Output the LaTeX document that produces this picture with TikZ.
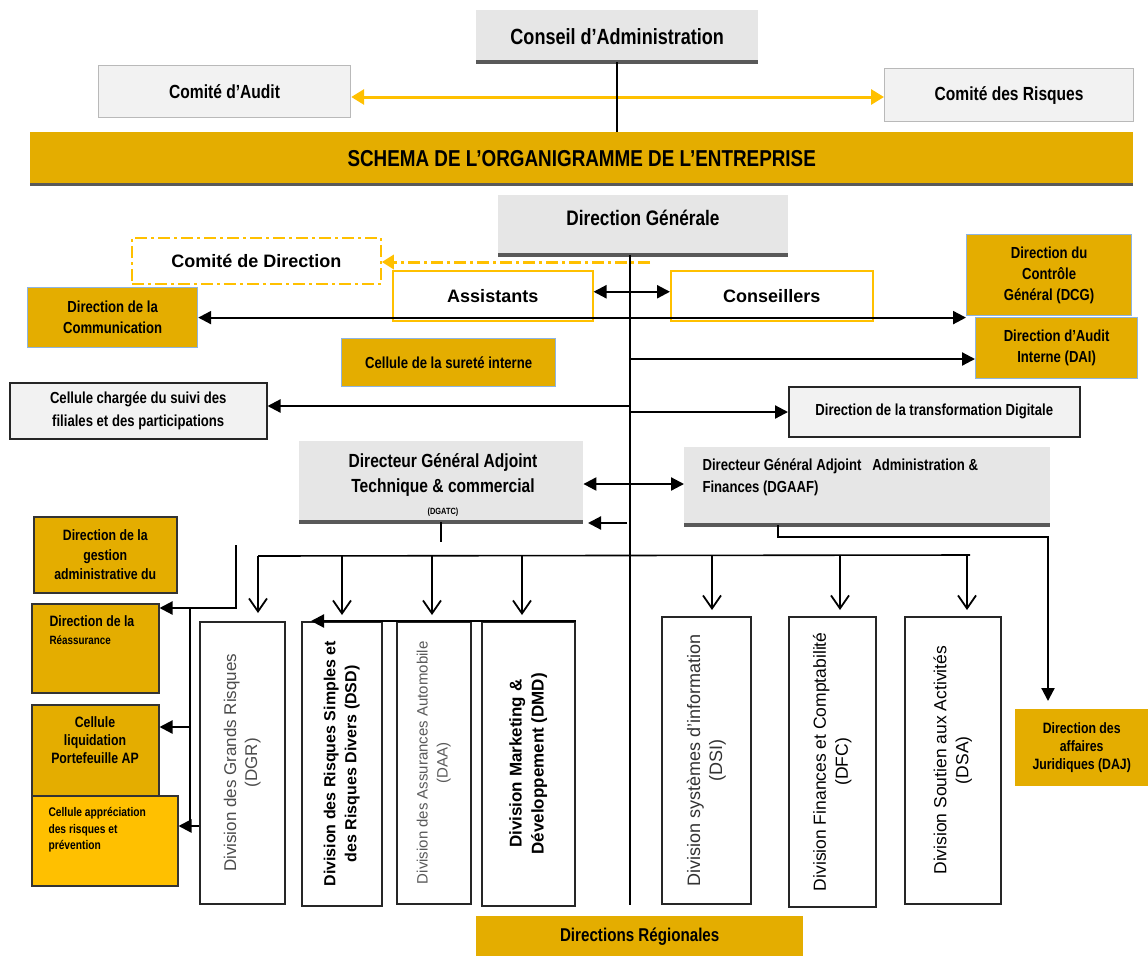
\documentclass[tikz,border=0pt]{standalone}
\usepackage{fontspec}
\setmainfont{Liberation Sans}[FakeStretch=0.82]
\newfontfamily\wfont{Liberation Sans}
\usetikzlibrary{arrows.meta}
\definecolor{gold}{RGB}{228,173,0}
\definecolor{amber}{RGB}{255,192,0}
\definecolor{lgray}{RGB}{230,230,230}
\definecolor{vlgray}{RGB}{242,242,242}
\definecolor{bblue}{RGB}{141,180,226}
\definecolor{dgray}{RGB}{89,89,89}
\newcommand\fsz[2]{\fontsize{#1}{#2}\selectfont}
\begin{document}
\begin{tikzpicture}[x=1pt,y=-1pt,
  box/.style={anchor=north west, inner sep=0pt, align=center, font=\bfseries},
  graybox/.style={box, fill=lgray},
  palebox/.style={box, fill=vlgray, draw=gray!55, line width=1.2pt},
  goldblue/.style={box, fill=gold, draw=bblue, line width=1.2pt},
  golddark/.style={box, fill=gold, draw=black!80, line width=1.5pt},
  whitebox/.style={box, fill=white, draw=black!85, line width=1.5pt},
  divbox/.style={box, draw=black!85, line width=1.5pt, fill=white},
  bar/.style={line width=4pt, draw=dgray},
  conn/.style={line width=1.6pt},
  ddot/.style={dash pattern=on 12pt off 4pt on 3pt off 4pt},
  harrow/.style={line width=2.2pt, -{Triangle[length=13pt,width=13pt]}},
  darrow/.style={line width=2.2pt, {Triangle[length=13pt,width=13pt]}-{Triangle[length=13pt,width=13pt]}},
  oarrow/.style={line width=1.8pt, -{Straight Barb[length=13pt,width=18pt]}},
  vtext/.style={rotate=90, align=center}
]
\fill[white] (0,0) rectangle (1148,956);
\useasboundingbox (0,0) rectangle (1148,956);

% top
\node[graybox, minimum width=282pt, minimum height=52pt, font=\bfseries\fsz{22}{26}] (CA) at (476,10) {Conseil d’Administration};
\draw[bar] (CA.south west) -- (CA.south east);
\node[palebox, minimum width=252pt, minimum height=52pt, font=\bfseries\fsz{19}{22}] (AUD) at (98,65) {Comité d’Audit};
\node[palebox, minimum width=249pt, minimum height=53pt, font=\bfseries\fsz{19}{22}] (RIS) at (884,68) {Comité des Risques};
\node[box, fill=gold, minimum width=1103pt, minimum height=52pt, font=\bfseries\fsz{23}{26}] (BAN) at (30,132) {SCHEMA DE L’ORGANIGRAMME DE L’ENTREPRISE};
\draw[bar, line width=3pt] (BAN.south west) -- (BAN.south east);
\coordinate (ya) at (0,97);
\draw[line width=3pt, amber, {Triangle[length=13pt,width=15pt]}-{Triangle[length=13pt,width=15pt]}] (AUD.east |- ya) -- (RIS.west |- ya);
\draw[conn] (CA.south) -- (CA.south |- BAN.north);

% direction generale
\node[graybox, minimum width=290pt, minimum height=60pt] (DG) at (498,195) {};
\node[font=\bfseries\fsz{21}{24}] (DGt) at (643,218) {Direction Générale};
\draw[bar] (DG.south west) -- (DG.south east);
\coordinate (trk) at (630,905);
\draw[conn] (DG.south -| trk) -- (trk);

\node[box, draw=amber, ddot, line width=1.8pt, minimum width=249pt, minimum height=46pt, font=\wfont\bfseries\fsz{18}{22}] (CDD) at (131,237) {Comité de Direction};
\coordinate (cddS) at (650,262);
\draw[amber, ddot, line width=3pt, -{Triangle[length=12pt,width=14pt]}] (cddS) -- (cddS -| CDD.east);

\node[box, draw=amber, line width=1.5pt, minimum width=200pt, minimum height=50pt, font=\wfont\bfseries\fsz{18}{22}] (AST) at (392,270) {Assistants};
\node[box, draw=amber, line width=1.5pt, minimum width=202pt, minimum height=50pt, font=\wfont\bfseries\fsz{18}{22}] (CON) at (670,270) {Conseillers};
\draw[darrow] ([yshift=4pt]AST.east) -- ([yshift=4pt]CON.west);

\node[goldblue, minimum width=170pt, minimum height=60pt, font=\bfseries\fsz{16}{21}] (COM) at (27,287) {Direction de la\\Communication};
\node[goldblue, minimum width=165pt, minimum height=81pt, font=\bfseries\fsz{16}{21}] (DCG) at (966,234) {Direction du\\Contrôle\\Général (DCG)};
\node[goldblue, minimum width=162pt, minimum height=61pt, font=\bfseries\fsz{16}{21}] (DAI) at (975,317) {Direction d’Audit\\Interne (DAI)};
\draw[darrow] (COM.east) -- (COM.east -| DCG.west);

\node[goldblue, minimum width=214pt, minimum height=48pt, font=\bfseries\fsz{16}{20}] (SUR) at (341,338) {Cellule de la sureté interne};
\coordinate (t1) at (630,359);
\draw[harrow] (t1) -- (t1 -| DAI.west);

\node[whitebox, fill=vlgray, minimum width=257pt, minimum height=56pt, font=\bfseries\fsz{16}{23}] (FIL) at (9,382) {Cellule chargée du suivi des\\filiales et des participations};
\coordinate (t2) at (630,406);
\draw[harrow] (t2) -- (t2 -| FIL.east);
\node[whitebox, fill=vlgray, minimum width=291pt, minimum height=50pt, font=\bfseries\fsz{16}{20}] (DIG) at (788,386) {Direction de la transformation Digitale};
\coordinate (t3) at (630,412);
\draw[harrow] (t3) -- (t3 -| DIG.west);

% DGA
\node[graybox, minimum width=284pt, minimum height=81pt] (DGA) at (299,441) {};
\node[font=\bfseries\fsz{19}{25}, align=center] (DGAt) at (443,475) {Directeur Général Adjoint\\Technique \& commercial};
\node[font=\bfseries\fsz{9}{10}] (DGAc) at (443,512) {(DGATC)};
\draw[bar] (DGA.south west) -- (DGA.south east);
\node[graybox, minimum width=366pt, minimum height=78pt] (DGF) at (684,447) {};
\node[anchor=north west, align=left, font=\bfseries\fsz{16}{22}] (DGFt) at (699,455) {Directeur Général Adjoint \ \ Administration \&\\Finances (DGAAF)};
\draw[bar] (DGF.south west) -- (DGF.south east);
\coordinate (ydg) at (0,484);
\draw[darrow] (DGA.east |- ydg) -- (DGF.west |- ydg);
\coordinate (t4) at (627,523);
\coordinate (t4e) at (588,523);
\draw[harrow] (t4) -- (t4e);
\draw[conn] (DGA.south) -- ++(0,20);

% bus
\coordinate (bus0) at (258,556);
\coordinate (bus1) at (970,555);
\draw[conn] (bus0) -- (bus1);

% divisions
\node[divbox, minimum width=85pt, minimum height=282pt] (DGR) at (199,621) {};
\node[divbox, minimum width=80pt, minimum height=284pt] (DSD) at (301,621) {};
\node[divbox, minimum width=74pt, minimum height=282pt] (DAA) at (396,621) {};
\node[divbox, minimum width=93pt, minimum height=284pt] (DMD) at (481,621) {};
\node[divbox, minimum width=89pt, minimum height=287pt] (DSI) at (661,616) {};
\node[divbox, minimum width=87pt, minimum height=290pt] (DFC) at (788,616) {};
\node[divbox, minimum width=96pt, minimum height=287pt] (DSA) at (904,616) {};

\node[vtext, font=\wfont\fsz{17}{21}, text=black!70] (DGRt) at (DGR) {Division des Grands Risques\\(DGR)};
\node[vtext, font=\wfont\bfseries\fsz{16}{21}] (DSDt) at (DSD) {Division des Risques Simples et\\des Risques Divers (DSD)};
\node[vtext, font=\wfont\fsz{15}{20}, text=black!65] (DAAt) at (DAA) {Division des Assurances Automobile\\(DAA)};
\node[vtext, font=\wfont\bfseries\fsz{17}{22}] (DMDt) at (DMD) {Division Marketing \&\\Développement (DMD)};
\node[vtext, font=\wfont\fsz{18}{22}, text=black!80] (DSIt) at (DSI) {Division systèmes d’information\\(DSI)};
\node[vtext, font=\wfont\fsz{17.5}{22}] (DFCt) at (DFC) {Division Finances et Comptabilité\\(DFC)};
\node[vtext, font=\wfont\fsz{17.5}{22}] (DSAt) at (DSA) {Division Soutien aux Activités\\(DSA)};

\draw[oarrow, shorten >=8pt] (bus0) -- (DGR.north -| bus0);
\foreach \n/\x in {DSD/342, DAA/432, DMD/522, DSI/712, DFC/840, DSA/967} {
  \coordinate (ax) at (\x,0);
  \draw[oarrow, shorten >=6pt] (bus0 -| ax) -- (\n.north -| ax);
}
\draw[harrow] (DMD.north east) -- ([xshift=10pt]DSD.north west);

% left column
\node[golddark, minimum width=143pt, minimum height=76pt, font=\bfseries\fsz{15}{19.5}] (GES) at (33,516) {Direction de la\\gestion\\administrative du};
\node[golddark, minimum width=127pt, minimum height=89pt] (REA) at (31,603) {};
\node[anchor=north west, align=left, font=\bfseries\fsz{15}{18}] (REAt) at (46,612) {Direction de la\\{\fsz{12}{16}Réassurance}};
\node[golddark, minimum width=127pt, minimum height=103pt] (LIQ) at (31,704) {};
\node[font=\bfseries\fsz{15}{18}, align=center] (LIQt) at (95,740) {Cellule\\liquidation\\Portefeuille AP};
\node[box, fill=amber, draw=black!80, line width=1.5pt, minimum width=146pt, minimum height=90pt] (APR) at (31,795) {};
\node[anchor=north west, align=left, font=\bfseries\fsz{12.5}{16.5}] (APRt) at (45,804) {Cellule appréciation\\des risques et\\prévention};

\coordinate (lc0) at (236,545);
\coordinate (lc1) at (236,608);
\draw[harrow] (lc0) -- (lc1) -- (lc1 -| REA.east);
\coordinate (lv0) at (190,608);
\coordinate (lv1) at (190,826);
\draw[conn] (lv0) -- (lv1);
\coordinate (lq) at (190,727);
\draw[harrow] (lq) -- (lq -| LIQ.east);
\draw[harrow] (DGR.west |- lv1) -- (lv1 -| APR.east);

% right: DAJ
\node[box, fill=gold, minimum width=133pt, minimum height=77pt, font=\bfseries\fsz{15}{18}] (DAJ) at (1015,709) {Direction des\\affaires\\Juridiques (DAJ)};
\coordinate (aj0) at (778,525);
\coordinate (aj1) at (1048,537);
\draw[harrow, shorten >=8pt] (DGF.south -| aj0) |- (aj1) -- (aj1 |- DAJ.north);

% bottom
\node[box, fill=gold, minimum width=327pt, minimum height=40pt, font=\bfseries\fsz{18.5}{22}] (REG) at (476,916) {Directions Régionales};
\end{tikzpicture}
\end{document}
